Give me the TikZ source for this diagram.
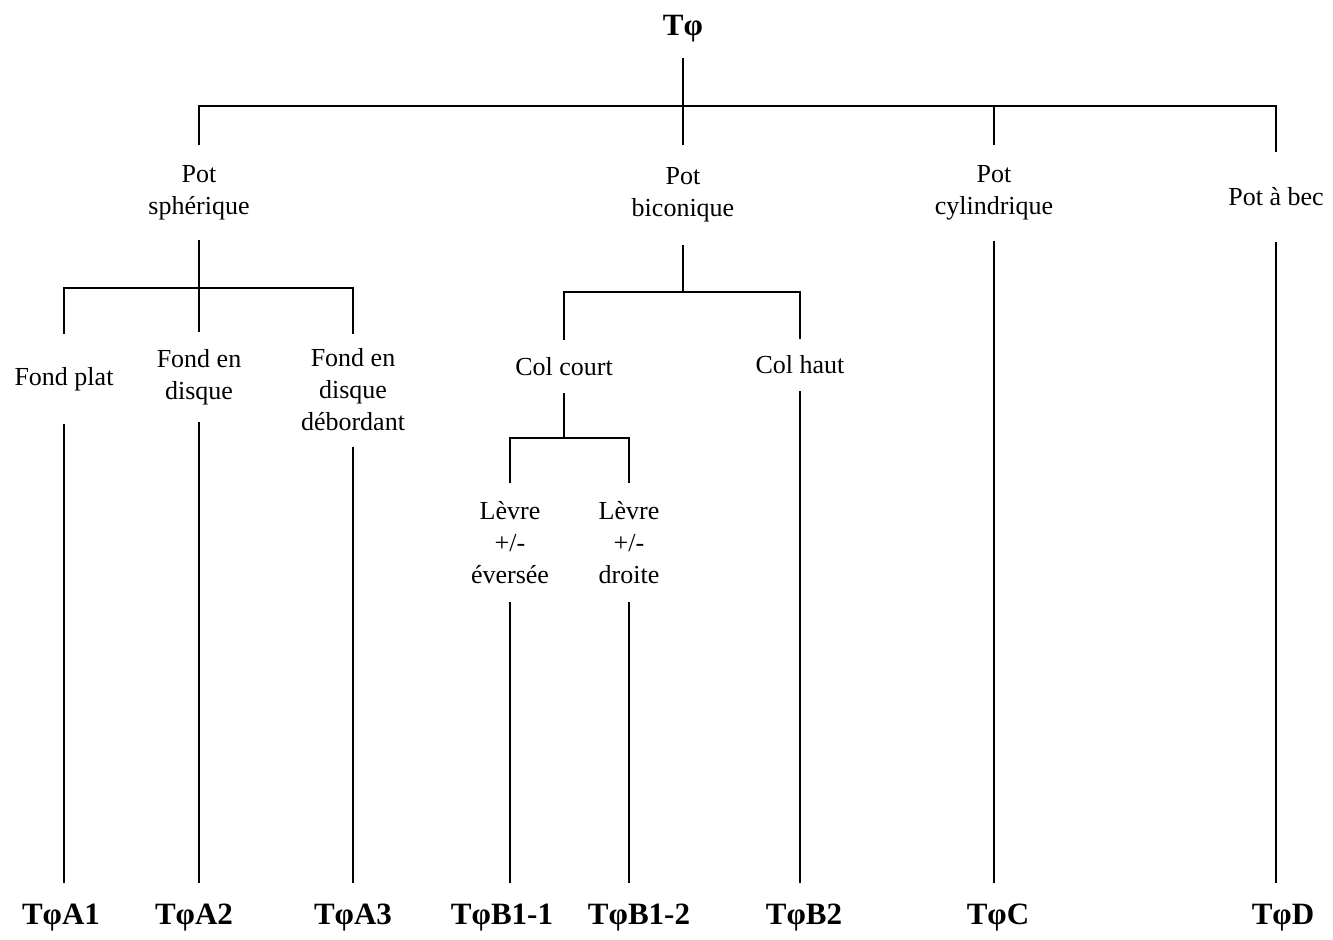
\documentclass[tikz,border=0pt]{standalone}
\usepackage{fontspec}
\setmainfont{Liberation Serif}
\begin{document}
\begin{tikzpicture}[x=0.5pt,y=-0.5pt,
  lbl/.style={font=\fontsize{13}{16}\selectfont, align=center, inner sep=0pt, outer sep=0pt},
  cls/.style={font=\fontsize{15.5}{18}\selectfont\bfseries, inner sep=0pt, outer sep=0pt},
  conn/.style={line width=1pt}]
\useasboundingbox (0,0) rectangle (1333,939);
% root
\node[cls, anchor=south, minimum height=29pt] (root) at (683,58) {Tφ};
% level 1
\node[lbl, minimum height=47.5pt] (ps) at (199,192.5) {Pot\\sphérique};
\node[lbl, minimum height=50pt] (pb) at (683,195) {Pot\\biconique};
\node[lbl, minimum height=48pt] (pc) at (994,193) {Pot\\cylindrique};
\node[lbl, minimum height=45pt] (pab) at (1276,197) {Pot à bec};
% level 2
\node[lbl, minimum height=45pt] (f1) at (64,379) {Fond plat};
\node[lbl, minimum height=45pt] (f2) at (199,377) {Fond en\\disque};
\node[lbl, minimum height=56.5pt] (f3) at (353,390) {Fond en\\disque\\débordant};
\node[lbl, minimum height=26.5pt] (cc) at (564,366.5) {Col court};
\node[lbl, minimum height=26pt] (ch) at (800,365) {Col haut};
% level 3
\node[lbl, minimum height=59.5pt] (l1) at (510,542.5) {Lèvre\\+/-\\éversée};
\node[lbl, minimum height=59.5pt] (l2) at (629,542.5) {Lèvre\\+/-\\droite};
% leaves
\node[cls, anchor=north, minimum height=35pt] (a1) at (61,883) {TφA1};
\node[cls, anchor=north, minimum height=35pt] (a2) at (194,883) {TφA2};
\node[cls, anchor=north, minimum height=35pt] (a3) at (353,883) {TφA3};
\node[cls, anchor=north, minimum height=35pt] (b11) at (502,883) {TφB1-1};
\node[cls, anchor=north, minimum height=35pt] (b12) at (639,883) {TφB1-2};
\node[cls, anchor=north, minimum height=35pt] (b2) at (804,883) {TφB2};
\node[cls, anchor=north, minimum height=35pt] (c) at (998,883) {TφC};
\node[cls, anchor=north, minimum height=35pt] (d) at (1283,883) {TφD};
% junctions
\coordinate (j0) at (683,106);
\coordinate (j1) at (199,288);
\coordinate (j2) at (683,292);
\coordinate (j3) at (564,438);
% connectors
\draw[conn] (root.south) -- (j0);
\foreach \n in {ps,pb,pc,pab} \draw[conn] (j0) -| (\n.north);
\draw[conn] (ps.south) -- (j1);
\foreach \n in {f1,f2,f3} \draw[conn] (j1) -| (\n.north);
\draw[conn] (pb.south) -- (j2);
\foreach \n in {cc,ch} \draw[conn] (j2) -| (\n.north);
\draw[conn] (cc.south) -- (j3);
\foreach \n in {l1,l2} \draw[conn] (j3) -| (\n.north);
\draw[conn] (f1.south) -- (f1.south |- a1.north);
\draw[conn] (f2.south) -- (f2.south |- a2.north);
\draw[conn] (f3.south) -- (f3.south |- a3.north);
\draw[conn] (l1.south) -- (l1.south |- b11.north);
\draw[conn] (l2.south) -- (l2.south |- b12.north);
\draw[conn] (ch.south) -- (ch.south |- b2.north);
\draw[conn] (pc.south) -- (pc.south |- c.north);
\draw[conn] (pab.south) -- (pab.south |- d.north);
\end{tikzpicture}
\end{document}
